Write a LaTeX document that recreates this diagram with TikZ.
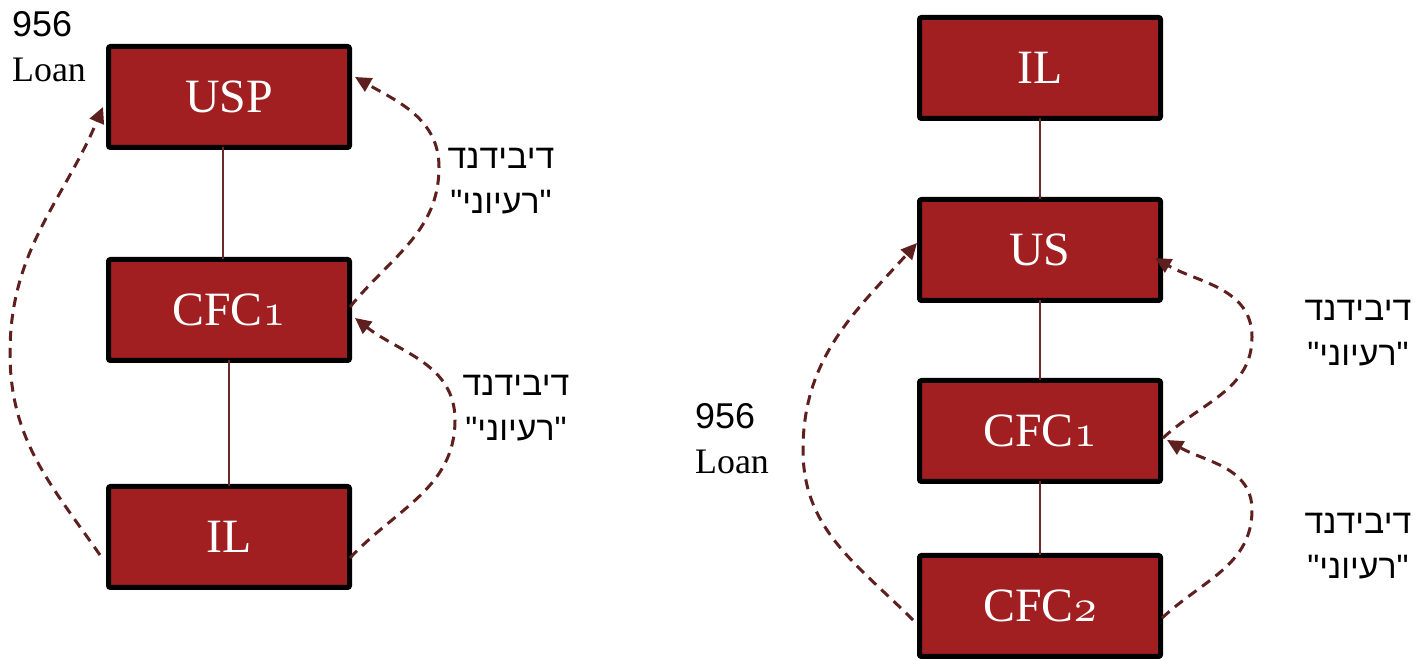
\documentclass[tikz,border=0pt]{standalone}
\usepackage{fontspec}
\setmainfont{Liberation Serif}
\newfontfamily\hebfont[Script=Hebrew]{Liberation Sans}
\newfontfamily\numfont{Liberation Sans}
\TeXXeTstate=1
\usetikzlibrary{arrows.meta}
\definecolor{boxred}{HTML}{A11F21}
\definecolor{flowred}{HTML}{5E1F1F}
\definecolor{linkred}{HTML}{6A2A2A}
% old-style digit in the entity names
\newcommand{\osn}[1]{{\fontsize{10}{12}\usefont{OML}{cmm}{m}{it}\scalebox{4.6}{#1}}}
\begin{document}
\begin{tikzpicture}[x=1bp,y=1bp,
  entity/.style={draw=black,line width=5bp,fill=boxred,rounded corners=2bp,
    minimum width=241bp,minimum height=101bp,outer sep=0pt,inner sep=0pt,
    text=white,font=\fontsize{48}{56}\selectfont},
  link/.style={draw=linkred,line width=1.5bp},
  flow/.style={draw=flowred,line width=3bp,dash pattern=on 10bp off 7bp,
    -{Triangle[length=16bp,width=15bp]}},
  heblabel/.style={align=center,inner sep=0pt,font=\hebfont\fontsize{34}{45}\selectfont},
  loanlabel/.style={align=left,inner sep=0pt,anchor=west,font=\fontsize{36}{45}\selectfont}
]
\useasboundingbox (0,0) rectangle (1427,659);

% left structure
\node[entity] (lusp) at (229,562) {USP};
\node[entity] (lcfc) at (229,349) {CFC\osn{1}};
\node[entity] (lil)  at (229,122) {IL};
\draw[link] ([xshift=-6bp]lusp.south) -- ([xshift=-6bp]lcfc.north);
\draw[link] (lcfc) -- (lil);

% right structure
\node[entity] (ril)   at (1040,591) {IL};
\node[entity] (rus)   at (1040,409) {US};
\node[entity] (rcfc1) at (1040,228) {CFC\osn{1}};
\node[entity] (rcfc2) at (1040,53)  {CFC\osn{2}};
\draw[link] (ril) -- (rus);
\draw[link] (rus) -- (rcfc1);
\draw[link] (rcfc1) -- (rcfc2);

% bulge points of the curved flows
\coordinate (b1) at (10,306);
\coordinate (b2) at (439,492);
\coordinate (b3) at (455,239);
\coordinate (b4) at (803,209);
\coordinate (b5) at (1252,322);
\coordinate (b6) at (1252,149);

% loan flows
\draw[flow] ([xshift=-8.5bp,yshift=-18bp]lil.west) to[out=125,in=-90] (b1)
  to[out=90,in=-113] ([xshift=-5.5bp,yshift=-10bp]lusp.west);
\draw[flow] ([xshift=-6.5bp,yshift=-14bp]rcfc2.west) to[out=135,in=-90] (b4)
  to[out=90,in=-132] ([xshift=-2.5bp,yshift=7bp]rus.west);

% deemed dividend flows
\draw[flow] ([xshift=0.5bp,yshift=3bp]lcfc.east) to[out=51,in=-90] (b2)
  to[out=90,in=-30] ([xshift=5.5bp,yshift=20bp]lusp.east);
\draw[flow] ([xshift=0.5bp,yshift=-21bp]lil.east) to[out=47,in=-90] (b3)
  to[out=90,in=-38] ([xshift=5.5bp,yshift=-8bp]lcfc.east);
\draw[flow] ([xshift=2.5bp,yshift=-7bp]rcfc1.east) to[out=43,in=-90] (b5)
  to[out=90,in=-30] ([xshift=-5.5bp,yshift=-8bp]rus.east);
\draw[flow] ([xshift=1.5bp,yshift=-12bp]rcfc2.east) to[out=43,in=-90] (b6)
  to[out=90,in=-30] ([xshift=6.5bp,yshift=-9bp]rcfc1.east);

% labels
\node[loanlabel] (loanl) at (12,612) {{\numfont 956}\\Loan};
\node[loanlabel] (loanr) at (695,220) {{\numfont 956}\\Loan};
\node[heblabel] (divl1) at (501,478) {\beginR דיבידנד\endR\\\beginR "רעיוני"\endR};
\node[heblabel] (divl2) at (516,251) {\beginR דיבידנד\endR\\\beginR "רעיוני"\endR};
\node[heblabel] (divr1) at (1358,326) {\beginR דיבידנד\endR\\\beginR "רעיוני"\endR};
\node[heblabel] (divr2) at (1358,113) {\beginR דיבידנד\endR\\\beginR "רעיוני"\endR};
\end{tikzpicture}
\end{document}
